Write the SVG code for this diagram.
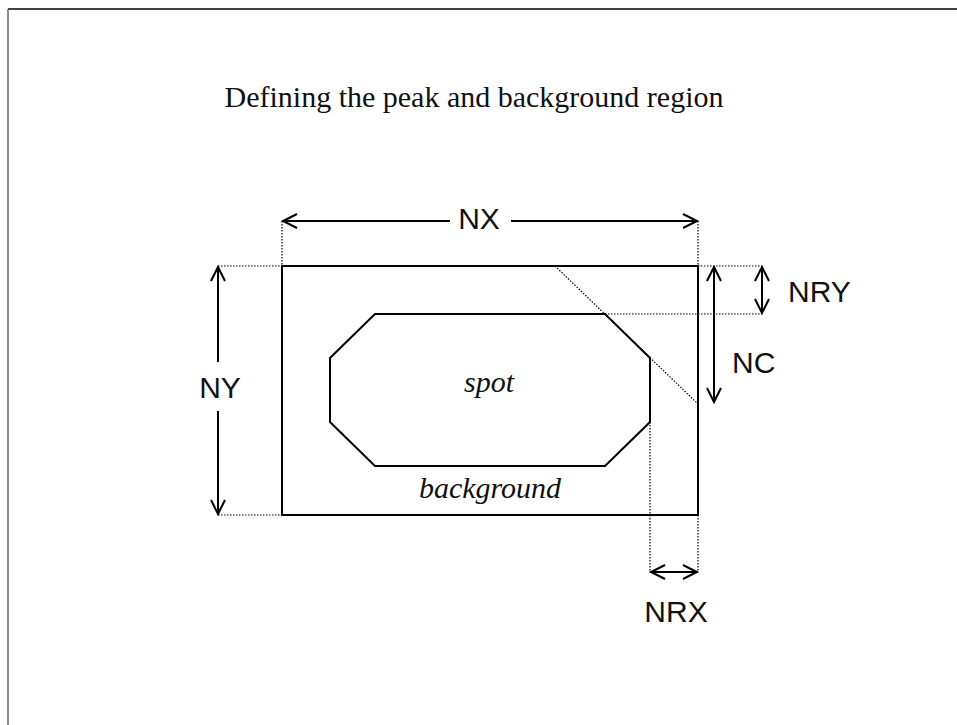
<svg xmlns="http://www.w3.org/2000/svg" width="957" height="725" viewBox="0 0 957 725">
<style>
.solid{fill:none;stroke:#000;stroke-width:2}
.dot{fill:none;stroke:#000;stroke-width:1.2;stroke-dasharray:1.5 1.5}
.arr{fill:none;stroke:#000;stroke-width:2}
.sans{font-family:"Liberation Sans",Arial,sans-serif;font-size:30px;fill:#111}
.serif{font-family:"Liberation Serif","Times New Roman",serif;font-size:30px;fill:#111}
.it{font-style:italic}
</style>
<defs>
<marker id="ah" markerUnits="userSpaceOnUse" markerWidth="20" markerHeight="20" refX="0" refY="0" viewBox="-16 -10 18 20" orient="auto-start-reverse">
<path d="M-14,-7 L0,0 L-14,7" fill="none" stroke="#000" stroke-width="2"/>
</marker>
</defs>
<rect width="957" height="725" fill="#fff"/>
<g id="frame">
<line x1="8" y1="9" x2="957" y2="9" stroke="#000" stroke-width="1.5"/>
<line x1="8" y1="9" x2="8" y2="725" stroke="#666" stroke-width="1.5"/>
</g>
<g id="title"><text class="serif" x="474" y="107" text-anchor="middle">Defining the peak and background region</text></g>
<g id="outer-rect">
<rect class="solid" x="282" y="266" width="416" height="249"/>
<text class="serif it" x="490" y="498" text-anchor="middle">background</text>
</g>
<g id="spot">
<polygon class="solid" points="375,314 605,314 650,358 650,422 605,466 375,466 330,422 330,358"/>
<text class="serif it" x="489" y="392" text-anchor="middle">spot</text>
</g>
<g id="connectors">
<line class="dot" x1="282" y1="221" x2="282" y2="266"/>
<line class="dot" x1="698" y1="221" x2="698" y2="266"/>
<line class="dot" x1="218" y1="266" x2="282" y2="266"/>
<line class="dot" x1="218" y1="515" x2="282" y2="515"/>
<line class="dot" x1="698" y1="266" x2="762" y2="266"/>
<line class="dot" x1="605" y1="314" x2="762" y2="314"/>
<line class="dot" x1="555" y1="266" x2="697" y2="403"/>
<line class="dot" x1="650" y1="422" x2="650" y2="572"/>
<line class="dot" x1="698" y1="515" x2="698" y2="572"/>
<line class="arr" x1="450" y1="221" x2="283" y2="221" marker-end="url(#ah)"/>
<line class="arr" x1="511" y1="221" x2="697" y2="221" marker-end="url(#ah)"/>
<line class="arr" x1="218" y1="362" x2="218" y2="267" marker-end="url(#ah)"/>
<line class="arr" x1="218" y1="411" x2="218" y2="514" marker-end="url(#ah)"/>
<line class="arr" x1="714" y1="267" x2="714" y2="402" marker-start="url(#ah)" marker-end="url(#ah)"/>
<line class="arr" x1="762" y1="267" x2="762" y2="313" marker-start="url(#ah)" marker-end="url(#ah)"/>
<line class="arr" x1="651" y1="572" x2="697" y2="572" marker-start="url(#ah)" marker-end="url(#ah)"/>
</g>
<g id="labels">
<text class="sans" x="479" y="229" text-anchor="middle">NX</text>
<text class="sans" x="220" y="398" text-anchor="middle">NY</text>
<text class="sans" x="732" y="373">NC</text>
<text class="sans" x="788" y="302">NRY</text>
<text class="sans" x="676" y="622" text-anchor="middle">NRX</text>
</g>
</svg>
